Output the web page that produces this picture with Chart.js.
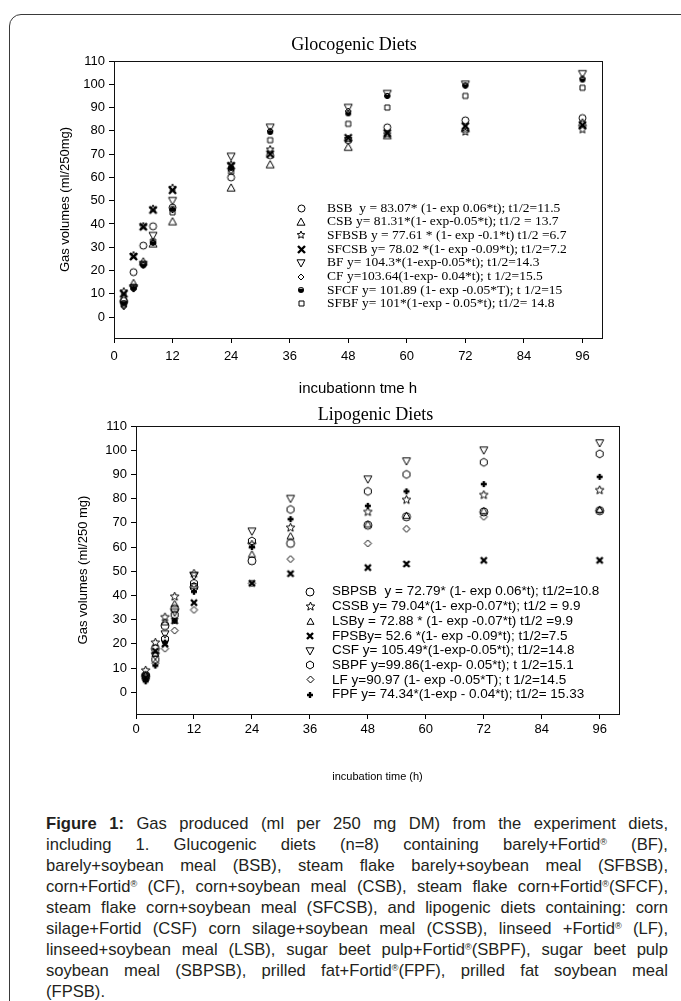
<!DOCTYPE html>
<html>
<head>
<meta charset="utf-8">
<title>Gas production</title>
<script src="https://cdn.jsdelivr.net/npm/chart.js@4.4.0/dist/chart.umd.min.js"></script>
<style>
  html, body { margin: 0; padding: 0; background: #fff; }
  body { width: 681px; height: 1001px; position: relative; overflow: hidden; font-family: "Liberation Sans", Arial, sans-serif; }
  .frame { position: absolute; left: 9px; top: 14px; width: 740px; height: 1100px; border: 1px solid #3a3a3a; border-top-left-radius: 12px; box-sizing: border-box; }
  canvas { position: absolute; left: 0; }
  #glucoChart { top: 0; }
  #lipoChart { top: 400px; }
  .caption { position: absolute; left: 46px; top: 813px; width: 622px; font-size: 16.6px; line-height: 21px; color: #231f20; }
  .caption div { text-align: justify; text-align-last: justify; }
  .caption div.last { text-align-last: left; }
  .caption sup { font-size: 0.55em; line-height: 0; vertical-align: 0.6em; }
</style>
</head>
<body>
<div class="frame"></div>
<canvas id="glucoChart" width="681" height="405"></canvas>
<canvas id="lipoChart" width="681" height="395"></canvas>
<div class="caption">
  <div><b>Figure 1:</b> Gas produced (ml per 250 mg DM) from the experiment diets,</div>
  <div>including 1. Glucogenic diets (n=8) containing barely+Fortid<sup>®</sup> (BF),</div>
  <div>barely+soybean meal (BSB), steam flake barely+soybean meal (SFBSB),</div>
  <div>corn+Fortid<sup>®</sup> (CF), corn+soybean meal (CSB), steam flake corn+Fortid<sup>®</sup>(SFCF),</div>
  <div>steam flake corn+soybean meal (SFCSB), and lipogenic diets containing: corn</div>
  <div>silage+Fortid (CSF) corn silage+soybean meal (CSSB), linseed +Fortid<sup>®</sup> (LF),</div>
  <div>linseed+soybean meal (LSB), sugar beet pulp+Fortid<sup>®</sup>(SBPF), sugar beet pulp</div>
  <div>soybean meal (SBPSB), prilled fat+Fortid<sup>®</sup>(FPF), prilled fat soybean meal</div>
  <div class="last">(FPSB).</div>
</div>
<script>
// sampling times (h) and axis ticks
const hours = [2, 4, 6, 8, 12, 24, 32, 48, 56, 72, 96];
const xTicks = [0, 12, 24, 36, 48, 60, 72, 84, 96];
const yTicks = [0, 10, 20, 30, 40, 50, 60, 70, 80, 90, 100, 110];

// Glocogenic diets (ml/250mg)
const bsb   = [7, 19.3, 30.7, 39, 47, 60, 69.5, 76, 81.5, 84.5, 85.5];
const csb   = [8, 14.5, 23.8, 31.5, 41, 55.5, 65.5, 73, 78, 81, 83.5];
const sfbsb = [11, 26.5, 39, 46.5, 55.5, 65.5, 72, 76.5, 78.5, 79.5, 80.5];
const sfcsb = [10, 26, 38.8, 46, 54.5, 65, 70, 77, 79, 82, 82.5];
const bf    = [5, 12.5, 22.5, 35, 50, 69, 81.5, 90, 96, 100, 104.5];
const cf    = [4.5, 12, 22.5, 32, 46, 63, 80, 88.5, 95, 99.5, 102.5];
const sfcf  = [6, 12.5, 22.3, 32, 46.5, 64, 79.5, 87.5, 95, 99.5, 102];
const sfbf  = [5.5, 13, 22.8, 32.5, 45, 62.5, 76, 83, 90, 95, 98.5];

// Lipogenic diets (ml/250 mg)
const sbpsb = [6.5, 18, 27.5, 34.5, 43.5, 54.3, 61.5, 69, 72.5, 74.5, 75];
const cssb  = [9, 20.5, 31, 39.5, 49, 61, 68, 74.5, 79.5, 81.5, 83.5];
const lsb   = [7, 16, 29, 36.5, 44, 57, 64.5, 69.5, 73, 75, 75.5];
const fpsb  = [6, 17, 20, 29.5, 37, 45, 49, 51.5, 53, 54.5, 54.5];
const csf   = [6, 15, 24, 33, 48, 66.5, 80, 88, 95.5, 100, 103];
const sbpf  = [7, 13.5, 22, 32, 45, 62.5, 75.5, 83, 90, 95, 98.5];
const lf    = [5.5, 12, 18, 25.5, 34, 45, 55, 61.5, 67.5, 72.5, 75];
const fpf   = [4.5, 11, 20.5, 29.5, 41.5, 60, 71.5, 77, 83, 86, 89];

const glucoLabels = [
  'BSB  y = 83.07* (1- exp 0.06*t); t1/2=11.5',
  'CSB y= 81.31*(1- exp-0.05*t); t1/2 = 13.7',
  'SFBSB y = 77.61 * (1- exp -0.1*t) t1/2 =6.7',
  'SFCSB y= 78.02 *(1- exp -0.09*t); t1/2=7.2',
  'BF y= 104.3*(1-exp-0.05*t); t1/2=14.3',
  'CF y=103.64(1-exp- 0.04*t); t 1/2=15.5',
  'SFCF y= 101.89 (1- exp -0.05*T); t 1/2=15',
  'SFBF y= 101*(1-exp - 0.05*t); t1/2= 14.8'
];
const lipoLabels = [
  'SBPSB  y = 72.79* (1- exp 0.06*t); t1/2=10.8',
  'CSSB y= 79.04*(1- exp-0.07*t); t1/2 = 9.9',
  'LSBy = 72.88 * (1- exp -0.07*t) t1/2 =9.9',
  'FPSBy= 52.6 *(1- exp -0.09*t); t1/2=7.5',
  'CSF y= 105.49*(1-exp-0.05*t); t1/2=14.8',
  'SBPF y=99.86(1-exp- 0.05*t); t 1/2=15.1',
  'LF y=90.97 (1- exp -0.05*T); t 1/2=14.5',
  'FPF y= 74.34*(1-exp - 0.04*t); t1/2= 15.33'
];

// little canvases used as point styles (sigmaplot-like symbols)
function marker(kind, size) {
  const c = document.createElement('canvas');
  c.width = c.height = Math.ceil(size) + 6;
  const ctx = c.getContext('2d');
  const m = c.width / 2, r = size / 2;
  ctx.strokeStyle = '#000';
  ctx.fillStyle = '#000';
  ctx.lineWidth = 1;
  ctx.beginPath();
  if (kind === 'circle') {
    ctx.arc(m, m, r, 0, Math.PI * 2);
    ctx.stroke();
  } else if (kind === 'triUp' || kind === 'triDown') {
    const s = kind === 'triUp' ? 1 : -1;
    ctx.moveTo(m, m - s * r);
    ctx.lineTo(m + r, m + s * r * 0.8);
    ctx.lineTo(m - r, m + s * r * 0.8);
    ctx.closePath();
    ctx.stroke();
  } else if (kind === 'star') {
    for (let i = 0; i < 10; i++) {
      const rr = i % 2 ? r * 0.45 : r;
      const ang = -Math.PI / 2 + i * Math.PI / 5;
      ctx.lineTo(m + rr * Math.cos(ang), m + rr * Math.sin(ang));
    }
    ctx.closePath();
    ctx.stroke();
  } else if (kind === 'cross') {
    ctx.lineWidth = 2.4;
    ctx.moveTo(m - r, m - r); ctx.lineTo(m + r, m + r);
    ctx.moveTo(m + r, m - r); ctx.lineTo(m - r, m + r);
    ctx.stroke();
  } else if (kind === 'plus') {
    ctx.lineWidth = 2.4;
    ctx.moveTo(m - r, m); ctx.lineTo(m + r, m);
    ctx.moveTo(m, m - r); ctx.lineTo(m, m + r);
    ctx.stroke();
  } else if (kind === 'diamond') {
    ctx.moveTo(m, m - r); ctx.lineTo(m + r, m);
    ctx.lineTo(m, m + r); ctx.lineTo(m - r, m);
    ctx.closePath();
    ctx.stroke();
  } else if (kind === 'square') {
    ctx.rect(m - r, m - r, size, size);
    ctx.stroke();
  } else if (kind === 'hexagon') {
    for (let i = 0; i < 6; i++) {
      const ang = -Math.PI / 2 + i * Math.PI / 3;
      ctx.lineTo(m + r * Math.cos(ang), m + r * Math.sin(ang));
    }
    ctx.closePath();
    ctx.stroke();
  } else if (kind === 'half') {
    ctx.arc(m, m, r, 0, Math.PI * 2);
    ctx.fill();
    ctx.beginPath();
    ctx.arc(m, m, r - 0.8, Math.PI * 1.15, Math.PI * 1.85);
    ctx.closePath();
    ctx.fillStyle = '#b0b0b0';
    ctx.fill();
  }
  return c;
}

const glucoMarkers = [
  marker('circle', 7), marker('triUp', 8), marker('star', 8), marker('cross', 7),
  marker('triDown', 8), marker('diamond', 6), marker('half', 6), marker('square', 5)
];
const lipoMarkers = [
  marker('circle', 8), marker('star', 9), marker('triUp', 7), marker('cross', 6),
  marker('triDown', 8), marker('hexagon', 8), marker('diamond', 7), marker('plus', 6)
];

function toPoints(vals) {
  return hours.map((h, i) => ({ x: h, y: vals[i] }));
}

// frame, title and the in-plot legend
function decor(cfg) {
  return {
    id: 'decor',
    afterDraw(chart) {
      const { ctx, chartArea: a } = chart;
      ctx.save();
      ctx.strokeStyle = '#111';
      ctx.lineWidth = 1;
      ctx.strokeRect(Math.round(a.left) + 0.5, Math.round(a.top) + 0.5,
        Math.round(a.right - a.left), Math.round(a.bottom - a.top));
      ctx.fillStyle = '#000';
      ctx.textBaseline = 'middle';
      ctx.textAlign = 'center';
      ctx.font = cfg.titleFont;
      ctx.fillText(cfg.title, (a.left + a.right) / 2 + cfg.titleDx, a.top - cfg.titleGap);
      ctx.textAlign = 'left';
      ctx.font = cfg.legendFont;
      cfg.labels.forEach((txt, i) => {
        const y = a.top + cfg.legendY + i * cfg.legendStep;
        const mk = cfg.markers[i];
        ctx.drawImage(mk, Math.round(a.left + cfg.markerX - mk.width / 2), Math.round(y - mk.height / 2));
        ctx.fillText(txt, a.left + cfg.textX, y);
      });
      ctx.restore();
    }
  };
}

function makeChart(id, series, markers, o) {
  const tickFont = { family: '"Liberation Sans", Arial, sans-serif', size: 13 };
  new Chart(document.getElementById(id), {
    type: 'scatter',
    data: {
      datasets: series.map((vals, i) => ({
        data: toPoints(vals),
        pointStyle: markers[i],
        showLine: false
      }))
    },
    options: {
      responsive: false,
      animation: false,
      events: [],
      layout: { padding: o.padding },
      plugins: { legend: { display: false }, tooltip: { enabled: false }, title: { display: false } },
      scales: {
        x: {
          type: 'linear', min: 0, max: 100,
          afterBuildTicks: s => { s.ticks = xTicks.map(v => ({ value: v })); },
          afterFit: s => { s.height = o.xHeight; },
          ticks: { color: '#000', font: tickFont, padding: o.xTickPad, maxRotation: 0, autoSkip: false },
          grid: { drawOnChartArea: false, drawTicks: true, tickLength: 5, color: '#000' },
          border: { display: true, color: '#111' },
          title: { display: true, text: o.xTitle, color: '#000', padding: 0,
                   font: { family: '"Liberation Sans", Arial, sans-serif', size: o.xTitleSize } }
        },
        y: {
          type: 'linear', min: -9, max: 110,
          afterBuildTicks: s => { s.ticks = yTicks.map(v => ({ value: v })); },
          afterFit: s => { s.width = o.yWidth; },
          ticks: { color: '#000', font: tickFont, padding: 4, autoSkip: false },
          grid: { drawOnChartArea: false, drawTicks: true, tickLength: 5, color: '#000' },
          border: { display: true, color: '#111' },
          title: { display: true, text: o.yTitle, color: '#000', padding: 0,
                   font: { family: '"Liberation Sans", Arial, sans-serif', size: 13 } }
        }
      }
    },
    plugins: [decor(o.decor)]
  });
}

makeChart('glucoChart', [bsb, csb, sfbsb, sfcsb, bf, cf, sfcf, sfbf], glucoMarkers, {
  padding: { left: 58, top: 61, right: 79, bottom: 7 },
  xHeight: 60, yWidth: 56, xTickPad: 6, xTitleSize: 15,
  xTitle: 'incubationn tme h', yTitle: 'Gas volumes (ml/250mg)',
  decor: {
    title: 'Glocogenic Diets', titleFont: '18px "Liberation Serif", "Times New Roman", serif',
    titleDx: -4, titleGap: 16,
    labels: glucoLabels, markers: glucoMarkers,
    legendFont: '13.5px "Liberation Serif", "Times New Roman", serif',
    markerX: 187, textX: 213, legendY: 147, legendStep: 13.7
  }
});

makeChart('lipoChart', [sbpsb, cssb, lsb, fpsb, csf, sbpf, lf, fpf], lipoMarkers, {
  padding: { left: 76, top: 26, right: 62, bottom: 11 },
  xHeight: 70, yWidth: 60, xTickPad: 3, xTitleSize: 11,
  xTitle: 'incubation time (h)', yTitle: 'Gas volumes (ml/250 mg)',
  decor: {
    title: 'Lipogenic Diets', titleFont: '18px "Liberation Serif", "Times New Roman", serif',
    titleDx: -2, titleGap: 11,
    labels: lipoLabels, markers: lipoMarkers,
    legendFont: '13.5px "Liberation Sans", Arial, sans-serif',
    markerX: 174, textX: 196, legendY: 165.7, legendStep: 14.7
  }
});
</script>
</body>
</html>
